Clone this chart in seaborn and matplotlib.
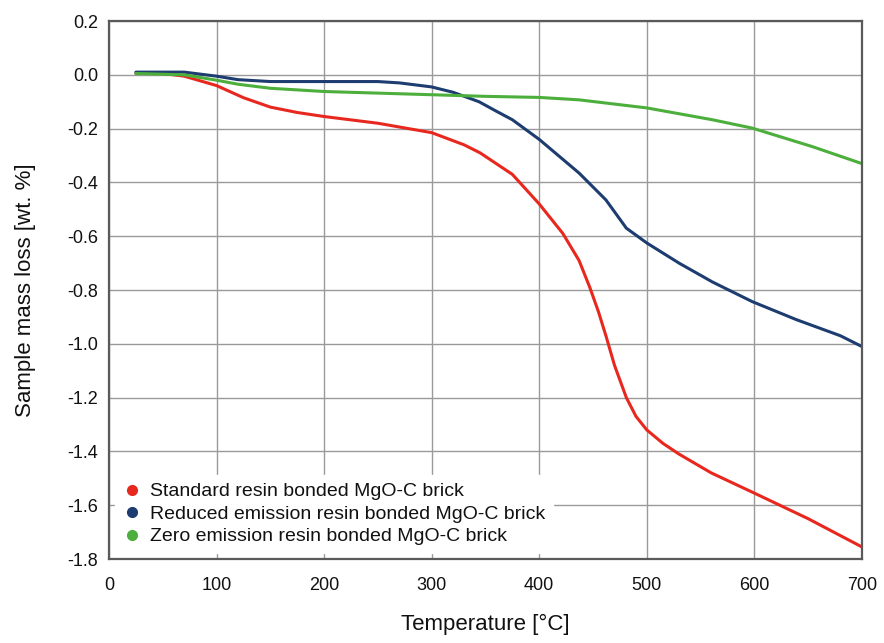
import numpy as np
import pandas as pd
import matplotlib
matplotlib.use("Agg")
import matplotlib.pyplot as plt
from matplotlib.lines import Line2D
import seaborn as sns

# --- data ---
std_temp = [25, 50, 70, 100, 125, 150, 175, 200, 250, 300, 330, 345, 375, 400,
            422, 437, 447, 455, 462, 470, 481, 490, 500, 515, 530, 560, 600, 650, 700]
std_loss = [0.005, 0.005, -0.005, -0.04, -0.085, -0.12, -0.14, -0.155, -0.18, -0.215,
            -0.26, -0.29, -0.37, -0.48, -0.59, -0.69, -0.79, -0.88, -0.97, -1.08,
            -1.20, -1.27, -1.32, -1.37, -1.41, -1.48, -1.555, -1.65, -1.755]

red_temp = [25, 70, 100, 120, 150, 200, 250, 270, 300, 320, 344, 360, 375, 400,
            437, 462, 481, 500, 530, 561, 598, 639, 680, 700]
red_loss = [0.01, 0.01, -0.005, -0.018, -0.025, -0.025, -0.025, -0.03, -0.045, -0.065,
            -0.10, -0.135, -0.167, -0.24, -0.365, -0.465, -0.57, -0.625, -0.70, -0.77,
            -0.843, -0.91, -0.97, -1.01]

zero_temp = [25, 70, 100, 120, 150, 200, 250, 300, 350, 400, 437, 500, 561, 598,
             654, 700]
zero_loss = [0.005, 0.0, -0.02, -0.035, -0.05, -0.062, -0.068, -0.074, -0.08, -0.084,
             -0.093, -0.123, -0.167, -0.198, -0.267, -0.33]

labels = ["Standard resin bonded MgO-C brick",
          "Reduced emission resin bonded MgO-C brick",
          "Zero emission resin bonded MgO-C brick"]
colors = ["#e8281e", "#1d3c70", "#4caf3c"]

x_ticks = [0, 100, 200, 300, 400, 500, 600, 700]
y_ticks = [0.2, 0.0, -0.2, -0.4, -0.6, -0.8, -1.0, -1.2, -1.4, -1.6, -1.8]

df = pd.concat([
    pd.DataFrame({"Temperature": std_temp, "Loss": std_loss, "Series": labels[0]}),
    pd.DataFrame({"Temperature": red_temp, "Loss": red_loss, "Series": labels[1]}),
    pd.DataFrame({"Temperature": zero_temp, "Loss": zero_loss, "Series": labels[2]}),
])

sns.set_style("white")
plt.rcParams['font.family'] = ['Liberation Sans', 'DejaVu Sans']
plt.rcParams['axes.unicode_minus'] = False
plt.rcParams['text.color'] = '#111111'
plt.rcParams['axes.labelcolor'] = '#111111'

fig = plt.figure(figsize=(8.84, 6.43), dpi=100)
ax = fig.add_axes([0.1233, 0.1306, 0.8517, 0.8367])

sns.lineplot(data=df, x="Temperature", y="Loss", hue="Series", palette=colors,
             hue_order=labels, linewidth=2.2, ax=ax, legend=False, sort=False)

ax.set_xlim(0, 700)
ax.set_ylim(-1.8, 0.2)
ax.set_xticks(x_ticks)
ax.set_yticks(y_ticks)
ax.set_yticklabels([f"{v:.1f}" for v in y_ticks])
ax.tick_params(axis="both", labelsize=13, length=0, colors="#111111")
ax.tick_params(axis="y", pad=8)
ax.tick_params(axis="x", pad=13)
ax.grid(True, color="#9a9a9a", linewidth=1.0)
for s in ax.spines.values():
    s.set_color("#5a5a5a")
    s.set_linewidth(1.6)

ax.set_xlabel("Temperature [°C]", fontsize=16, labelpad=14)
ax.set_ylabel("Sample mass loss [wt. %]", fontsize=16, labelpad=22)

handles = [Line2D([], [], marker="o", linestyle="none", markersize=7,
                  markerfacecolor=c, markeredgecolor=c) for c in colors]
leg = ax.legend(handles, labels, loc="lower left", fontsize=14, frameon=True,
                handlelength=1.0, handletextpad=0.4, labelspacing=0.25,
                borderpad=0.4, borderaxespad=0.3)
leg.get_frame().set_edgecolor("white")
leg.get_frame().set_facecolor("white")
leg.get_frame().set_alpha(1.0)

fig.savefig("out.png", dpi=100)
